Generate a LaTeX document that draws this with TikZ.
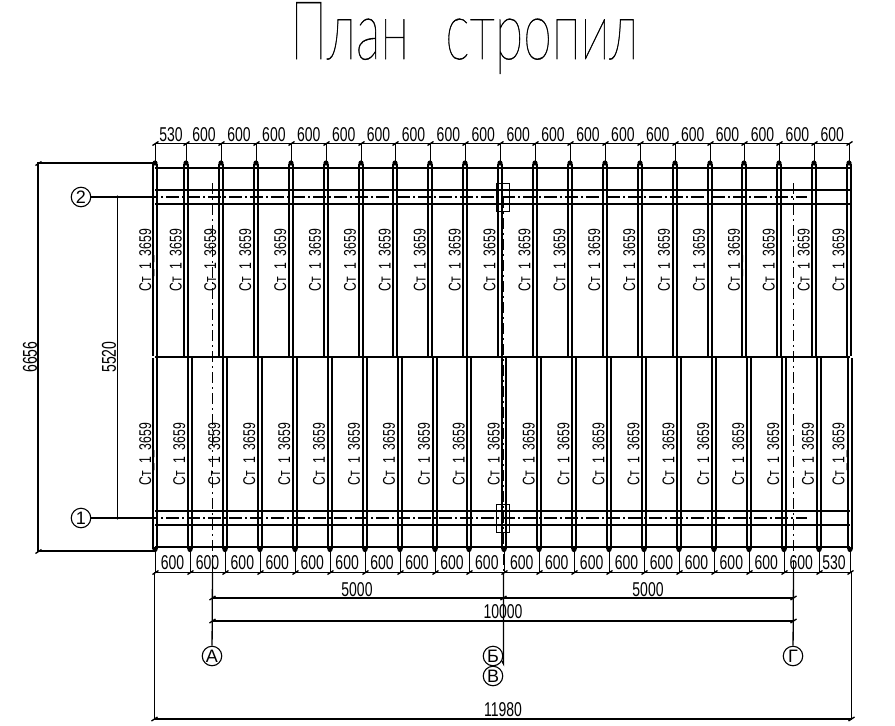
\documentclass[tikz,border=0pt]{standalone}
\usepackage{fontspec}
\setmainfont{Liberation Sans}
\newfontfamily\titlefont[FakeBold=0.6]{Lato Thin}
\usetikzlibrary{calc}
\newcommand{\dimtxt}[1]{\scalebox{0.7}[1]{#1}}
\newcommand{\raftxt}{\scalebox{0.72}[1]{Ст\_1\_3659}}
\tikzset{
  x=1pt,y=-1pt,
  raft/.style={line width=1.8pt,black},
  beam/.style={line width=2pt,black},
  thinl/.style={line width=1.3pt,black},
  dimline/.style={line width=1.8pt,black},
  axisline/.style={line width=2pt,black,dash pattern=on 13pt off 3pt on 2pt off 3pt},
  vaxis/.style={line width=1.5pt,black,dash pattern=on 11pt off 4pt on 2pt off 4pt},
  bubble/.style={circle,draw=black,line width=1.1pt,minimum size=19.5pt,inner sep=0pt,font=\fontsize{18}{18}\selectfont},
  dimlab/.style={font=\fontsize{20}{20}\selectfont,inner sep=0pt},
  raflab/.style={font=\fontsize{17}{17}\selectfont,inner sep=0pt,rotate=90}
}
% one rafter with its end dot and witness line
\newcommand{\upraft}[1]{%
  \pgfmathsetmacro{\rx}{round(#1)}%
  \draw[raft] (\rx-2,164)--(\rx-2,356) (\rx+2,164)--(\rx+2,356);
  \fill (\rx,163) circle (2.6pt);
  \draw[thinl] (\rx+.5,143)--(\rx+.5,163);
  \draw[thinl] (\rx-2.5,145.5)--(\rx+3.5,141.5);}
\newcommand{\lowraft}[1]{%
  \pgfmathsetmacro{\rx}{round(#1)}%
  \draw[raft] (\rx-2,358)--(\rx-2,549) (\rx+2,358)--(\rx+2,549);
  \fill (\rx,549.5) circle (2.6pt);
  \draw[thinl] (\rx+.5,551)--(\rx+.5,572);
  \draw[thinl] (\rx-2.5,574.5)--(\rx+3.5,570.5);}
\begin{document}
\begin{tikzpicture}
\useasboundingbox (0,0) rectangle (895,726);
\fill[white] (0,0) rectangle (895,726);
\node[anchor=north west,inner sep=0pt] (title) at (290,2)
  {\resizebox{348pt}{57pt}{\titlefont План\hspace{0.7em}стропил}};
% beams
\foreach \yy in {168,190,204,511,525,547}
  \draw[beam] (155,\yy) -- (850,\yy);
\draw[thinl,line width=1.6pt] (155,357) -- (850,357);
% rafters
\upraft{155}
\upraft{186}
\foreach \k in {0,...,18}{
  \pgfmathsetmacro{\xx}{221+34.9*\k}
  \upraft{\xx}
  \pgfmathsetmacro{\lx}{212+34.9*\k}
  \node[raflab] at (\lx,260) {\raftxt};
  \pgfmathsetmacro{\dx}{239+34.9*\k}
  \ifnum\k<18 \node[dimlab] at (\dx,135) {\dimtxt{600}};\fi
}
\node[raflab] at (147,260) {\raftxt};
\node[raflab] at (177.5,260) {\raftxt};
\node[dimlab] at (171,135) {\dimtxt{530}};
\node[dimlab] at (204,135) {\dimtxt{600}};
\draw[thinl] (155,143.5) -- (849.2,143.5);
% lower rafters
\lowraft{155}
\lowraft{850}
\foreach \k in {0,...,18}{
  \pgfmathsetmacro{\xx}{190+34.93*\k}
  \lowraft{\xx}
  \pgfmathsetmacro{\lx}{181+34.93*\k}
  \node[raflab] at (\lx,454) {\raftxt};
  \pgfmathsetmacro{\dx}{172.5+34.93*\k}
  \node[dimlab] at (\dx,563) {\dimtxt{600}};
}
\node[raflab] at (147,454) {\raftxt};
\node[raflab] at (840,454) {\raftxt};
\node[dimlab] at (834,563) {\dimtxt{530}};
\draw[thinl] (155,572.5) -- (850,572.5);
% connector rects
\draw[line width=1.1pt] (496.5,183.5) rectangle (509.5,211.5);
\draw[line width=1.1pt] (496.5,504.5) rectangle (509.5,532.5);
% axis bubbles
\node[bubble] (n2) at (81,197) {2};
\node[bubble] (n1) at (81,518) {1};
\node[bubble] (nA) at (212,656) {А};
\node[bubble] (nB) at (493,656) {Б};
\node[bubble] (nV) at (493,676) {В};
\node[bubble] (nG) at (793,656) {Г};
\coordinate (a2s) at (145,197);
\coordinate (a2e) at (807,197);
\coordinate (a1s) at (145,518);
\coordinate (a1e) at (807,518);
\draw[beam] (n2) -- (a2s);
\draw[beam] (n1) -- (a1s);
\draw[axisline] (a2s) -- (a2e);
\draw[axisline] (a1s) -- (a1e);
\coordinate (vAt) at (212.5,183);
\coordinate (vAb) at (212.5,572);
\coordinate (vBt) at (503.5,197);
\coordinate (vBb) at (503.5,572);
\coordinate (vGt) at (793.5,183);
\coordinate (vGb) at (793.5,572);
\coordinate (vBk) at (503.5,664);
\draw[vaxis] (vAt) -- (vAb);
\draw[vaxis] (vBt) -- (vBb);
\draw[vaxis] (vGt) -- (vGb);
\draw[thinl] (vAb) -- (nA);
\draw[thinl] (vGb) -- (nG);
\draw[thinl] (vBb) -- (vBk) -- (nB.-30);
% dimensions
\coordinate (lT) at (38,163);
\coordinate (lB) at (38,551);
\coordinate (mT) at (117.5,197);
\coordinate (mB) at (117.5,518);
\draw[dimline] (155,163) -- (lT) -- (lB) -- (155,551);
\draw[thinl] (mT) -- (mB);
\fill (117.5,197) circle (1.6pt) (117.5,518) circle (1.6pt);
\draw[thinl] (35.5,553.5)--(41.5,549.5) (35.5,165.5)--(41.5,161.5);
\node[dimlab,rotate=90] at (30,357) {\dimtxt{6656}};
\node[dimlab,rotate=90] at (109,357) {\dimtxt{5520}};
\coordinate (d1) at (212.5,598);
\coordinate (d2) at (503.5,598);
\coordinate (d3) at (793.5,598);
\coordinate (e1) at (212.5,621);
\coordinate (e2) at (793.5,621);
\draw[dimline] (d1) -- (d3);
\draw[dimline] (e1) -- (e2);
\foreach \p in {d1,d2,d3,e1,e2}
  \draw[thinl] ($(\p)+(-3,2)$) -- ($(\p)+(3,-2)$);
\node[dimlab] at (357,590) {\dimtxt{5000}};
\node[dimlab] at (648,590) {\dimtxt{5000}};
\node[dimlab] at (503,612) {\dimtxt{10000}};
\coordinate (f1) at (154.5,719);
\coordinate (f2) at (851.5,719);
\draw[thinl,line width=1.5pt] (154.5,572) -- (f1) -- (f2) -- (851.5,572);
\draw[thinl] (151.5,721)--(157.5,717) (848.5,721)--(854.5,717);
\node[dimlab] at (503,710) {\dimtxt{11980}};
\end{tikzpicture}
\end{document}
